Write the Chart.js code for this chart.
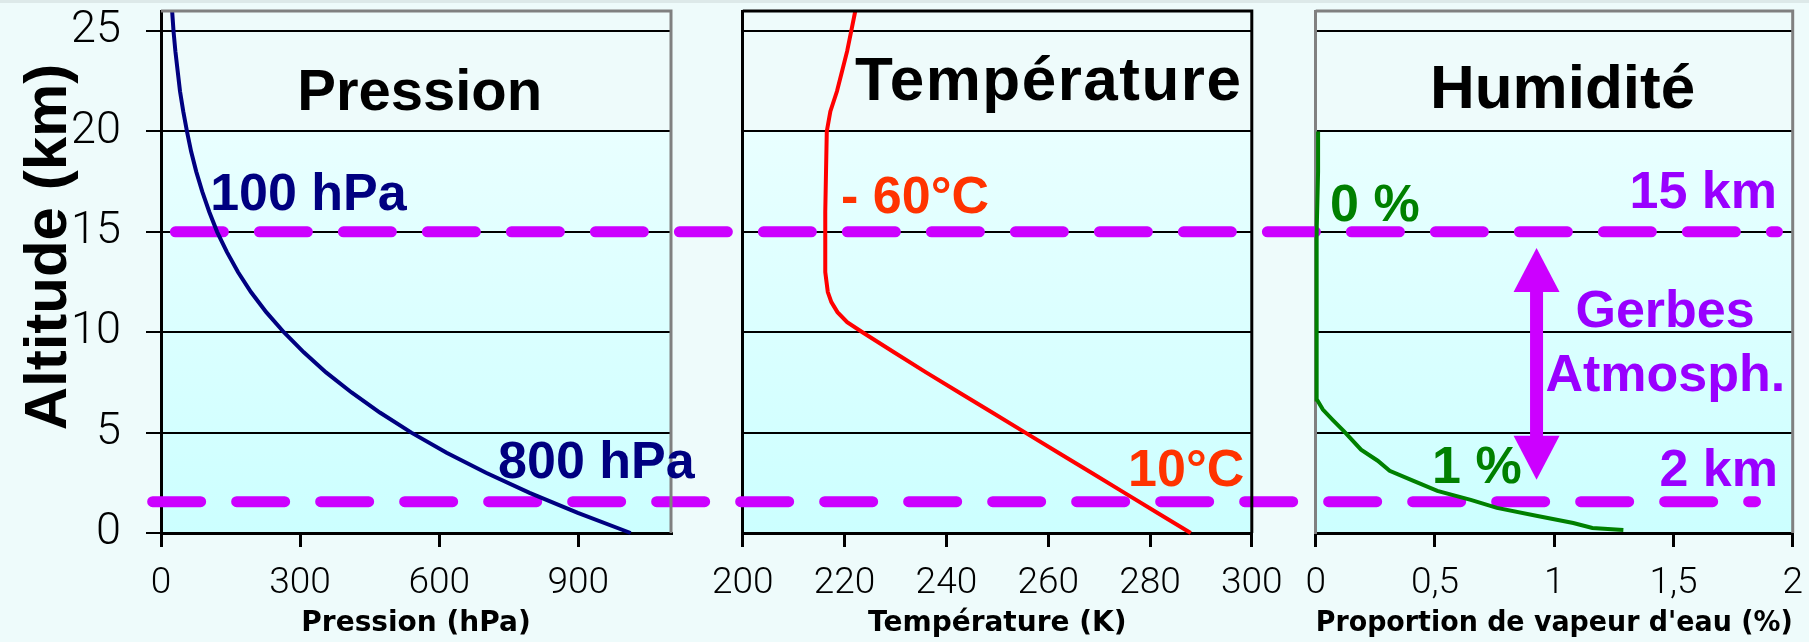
<!DOCTYPE html>
<html lang="fr">
<head>
<meta charset="utf-8">
<title>Pression, température, humidité</title>
<script src="https://cdn.jsdelivr.net/npm/chart.js@4.4.1/dist/chart.umd.min.js"></script>
<style>
  html, body { margin: 0; padding: 0; }
  body { width: 1809px; height: 642px; position: relative; overflow: hidden; background: #eefbfb; }
  #strip { position: absolute; left: 0; top: 0; width: 1809px; height: 3px; background: #dde9e9; }
  canvas { position: absolute; top: 0; }
</style>
</head>
<body>
<div id="strip"></div>
<canvas id="press" width="700" height="642" style="left:0px"></canvas>
<canvas id="temp" width="590" height="642" style="left:700px"></canvas>
<canvas id="hum" width="519" height="642" style="left:1290px"></canvas>
<script>
/* Profils verticaux : pression, température, humidité
   - trois graphiques Chart.js côte à côte, même axe des altitudes
   - les deux pointillés (15 km / ~2 km) traversent les trois panneaux
*/

// ---- valeurs --------------------------------------------------------------
const altTicks = [0, 5, 10, 15, 20, 25];

const altPression = [0, 1, 2, 3, 4, 5, 6, 7, 8, 9, 10, 11, 12, 13, 14, 15, 16, 17, 18, 19, 20, 21, 22, 23, 24, 25, 26];
const pression    = [1013, 899, 795, 701, 616, 540, 472, 411, 356, 308, 265, 227, 194, 166, 142, 121, 104, 89, 76, 65, 56, 48, 41, 36, 31, 27, 24];
const pressionTicks = [0, 300, 600, 900];

const altTemp     = [0, 1, 2, 3, 4, 5, 6, 7, 8, 9, 10, 10.5, 11, 11.5, 12, 13, 16, 20, 21, 22, 23, 24, 25, 26];
const temperature = [288, 281.5, 275, 268.5, 262, 255.5, 249, 242.5, 236, 229.7, 223.5, 220.5, 218.6, 217.4, 216.7, 216.2, 216.2, 216.5, 217.2, 218.5, 219.5, 220.5, 221.3, 222.1];
const tempTicks   = [200, 220, 240, 260, 280, 300];

const altHum   = [0.15, 0.25, 0.5, 0.85, 1.25, 1.65, 2.1, 2.6, 3.1, 3.6, 4.15, 5.05, 5.65, 6.15, 6.65, 10, 15, 18, 20];
const humidite = [1.29, 1.16, 1.08, 0.93, 0.76, 0.65, 0.51, 0.41, 0.31, 0.26, 0.19, 0.12, 0.07, 0.03, 0.005, 0.004, 0.004, 0.01, 0.01];
const humTicks = [0, 0.5, 1, 1.5, 2];

const niveaux = [15, 1.56];          // altitude des deux pointillés (km)

// ---- styles -------------------------------------------------------------------
const MAGENTA = "#cc00ff";
const VIOLET  = "#9900ff";
const BOLD    = '"Liberation Sans", Arial, sans-serif';
const THIN    = { family: "Roboto", weight: "300", size: 37 };
const AXTITLE = { family: '"DejaVu Sans"', weight: "bold", size: 28 };

// start (hPa, 1st panel) and end (%, last panel) of each dashed line
const dashExtent = [ { from: 31, to: 1.936 }, { from: -18, to: 1.844 } ];

const charts = {};

const panelPlugin = {
  id: "panel",
  beforeDraw(chart) {
    const { ctx, chartArea: a } = chart;
    const yTop = chart.scales.y.getPixelForValue(20);
    const g = ctx.createLinearGradient(0, yTop, 0, a.bottom);
    g.addColorStop(0, "#e9ffff");
    g.addColorStop(1, "#ccffff");
    ctx.save();
    ctx.fillStyle = g;
    ctx.fillRect(a.left, yTop, a.right - a.left, a.bottom - yTop);
    ctx.restore();
  },
  beforeDatasetsDraw(chart) {
    if (!charts.press || !charts.hum) return;
    const ctx = chart.ctx;
    const L = chart.canvas.offsetLeft;
    const pL = charts.press.canvas.offsetLeft;
    const hL = charts.hum.canvas.offsetLeft;
    niveaux.forEach((alt, i) => {
      const x0 = pL + charts.press.scales.x.getPixelForValue(dashExtent[i].from);
      const x1 = hL + charts.hum.scales.x.getPixelForValue(dashExtent[i].to);
      const xs = Math.max(x0, L) - L;
      const xe = Math.min(x1, L + chart.width) - L;
      if (xe <= xs) return;
      const y = chart.scales.y.getPixelForValue(alt);
      ctx.save();
      ctx.strokeStyle = MAGENTA;
      ctx.lineWidth = 11;
      ctx.lineCap = "round";
      ctx.setLineDash([48, 36]);
      ctx.lineDashOffset = (L + xs) - x0;    // keep the pattern continuous between canvases
      ctx.beginPath();
      ctx.moveTo(xs, y);
      ctx.lineTo(xe, y);
      ctx.stroke();
      ctx.restore();
    });
  },
  afterDraw(chart, args, o) {
    const { ctx, chartArea: a } = chart;
    const sx = chart.scales.x, sy = chart.scales.y;
    ctx.save();
    // top + right side of the frame
    ctx.strokeStyle = o.frame;
    ctx.lineWidth = 3;
    ctx.beginPath();
    ctx.moveTo(a.left, a.top);
    ctx.lineTo(a.right, a.top);
    ctx.lineTo(a.right, a.bottom);
    ctx.stroke();

    // double arrow
    (o.arrows || []).forEach(ar => {
      const x = sx.getPixelForValue(ar.x);
      const yA = sy.getPixelForValue(ar.top);
      const yB = sy.getPixelForValue(ar.bottom);
      const head = 44, half = 23;
      ctx.fillStyle = MAGENTA;
      ctx.fillRect(x - 6.5, yA + head - 1, 13, yB - yA - 2 * head + 2);
      ctx.beginPath();
      ctx.moveTo(x, yA); ctx.lineTo(x - half, yA + head); ctx.lineTo(x + half, yA + head);
      ctx.closePath(); ctx.fill();
      ctx.beginPath();
      ctx.moveTo(x, yB); ctx.lineTo(x - half, yB - head); ctx.lineTo(x + half, yB - head);
      ctx.closePath(); ctx.fill();
    });

    // texts
    (o.labels || []).forEach(l => {
      ctx.font = "bold " + l.size + "px " + BOLD;
      ctx.fillStyle = l.color;
      ctx.textAlign = l.align;
      ctx.textBaseline = "alphabetic";
      ctx.letterSpacing = (l.spacing || 0) + "px";
      ctx.fillText(l.text, sx.getPixelForValue(l.x), sy.getPixelForValue(l.y));
    });
    ctx.restore();
  }
};

function makeChart(id, cfg) {
  return new Chart(document.getElementById(id), {
    type: "scatter",
    data: {
      datasets: [{
        data: cfg.alt.map((a, i) => ({ x: cfg.values[i], y: a })),
        showLine: true,
        borderColor: cfg.color,
        borderWidth: 4,
        pointRadius: 0,
        tension: 0,
        clip: false
      }]
    },
    options: {
      responsive: false,
      animation: false,
      events: [],
      layout: { padding: { left: 0, top: 11, right: cfg.padRight, bottom: 0 } },
      plugins: {
        legend: { display: false },
        tooltip: { enabled: false },
        panel: { frame: cfg.frame, labels: cfg.labels, arrows: cfg.arrows }
      },
      scales: {
        x: {
          type: "linear",
          position: "bottom",
          min: cfg.min, max: cfg.max,
          afterBuildTicks: s => { s.ticks = cfg.ticks.map(v => ({ value: v })); },
          afterFit: s => { s.height = 109; s.paddingLeft = 0; s.paddingRight = 0; },
          grid: { drawOnChartArea: false, drawTicks: true, tickLength: 14, color: "#000", lineWidth: 3 },
          border: { display: true, color: "#000", width: 3 },
          ticks: { color: "#000", font: THIN, padding: 15, maxRotation: 0, autoSkip: false,
                   callback: cfg.fmt || (v => String(v)) },
          title: { display: true, text: cfg.xTitle, color: "#000", font: AXTITLE, padding: { top: 0, bottom: 1 } }
        },
        y: {
          type: "linear",
          min: 0, max: 26,
          afterBuildTicks: s => { s.ticks = altTicks.map(v => ({ value: v })); },
          afterFit: s => { s.width = cfg.yWidth; s.paddingTop = 0; s.paddingBottom = 0; },
          grid: { color: "#000", lineWidth: 2, drawTicks: cfg.yLabels, tickLength: 15 },
          border: { display: true, color: cfg.yAxisColor, width: 3 },
          ticks: { display: cfg.yLabels, color: "#000", padding: 25,
                   font: { family: "Roboto", weight: "300", size: 45 } },
          title: { display: cfg.yLabels, text: "\u00a0\u00a0\u00a0Altitude (km)", color: "#000",
                   font: { family: BOLD, weight: "bold", size: 60 }, padding: { top: 13, bottom: 0 } }
        }
      }
    },
    plugins: [panelPlugin]
  });
}

charts.press = makeChart("press", {
  alt: altPression, values: pression, color: "#000080",
  min: 0, max: 1100, ticks: pressionTicks, xTitle: "Pression (hPa)",
  yWidth: 161, padRight: 29, yLabels: true, yAxisColor: "#000", frame: "#808080",
  labels: [
    { text: "Pression", x: 558, y: 21.08, align: "center", color: "#000", size: 58 },
    { text: "100 hPa",  x: 106, y: 16.07, align: "left", color: "#000080", size: 52 },
    { text: "800 hPa",  x: 727, y: 2.74,  align: "left", color: "#000080", size: 52 }
  ]
});

charts.temp = makeChart("temp", {
  alt: altTemp, values: temperature, color: "#ff0000",
  min: 200, max: 300, ticks: tempTicks, xTitle: "Température (K)",
  yWidth: 42.8, padRight: 38.2, yLabels: false, yAxisColor: "#000", frame: "#000",
  labels: [
    { text: "Température", x: 260.1, y: 21.58, align: "center", color: "#000", size: 62, spacing: 1.5 },
    { text: "- 60°C", x: 219.3, y: 15.94, align: "left", color: "#ff3300", size: 52 },
    { text: "10°C",   x: 275.7, y: 2.32,  align: "left", color: "#ff3300", size: 52 }
  ]
});

charts.hum = makeChart("hum", {
  alt: altHum, values: humidite, color: "#008000",
  min: 0, max: 2, ticks: humTicks, xTitle: "Proportion de vapeur d'eau (%)",
  fmt: v => String(v).replace(".", ","),
  yWidth: 25.7, padRight: 16.3, yLabels: false, yAxisColor: "#808080", frame: "#808080",
  labels: [
    { text: "Humidité", x: 1.035, y: 21.17, align: "center", color: "#000", size: 62 },
    { text: "0 %",      x: 0.06,  y: 15.52, align: "left",   color: "#008000", size: 52 },
    { text: "15 km",    x: 1.934, y: 16.19, align: "right",  color: VIOLET, size: 52 },
    { text: "Gerbes",   x: 1.465, y: 10.27, align: "center", color: VIOLET, size: 52 },
    { text: "Atmosph.", x: 1.466, y: 7.09,  align: "center", color: VIOLET, size: 52 },
    { text: "1 %",      x: 0.488, y: 2.49,  align: "left",   color: "#008000", size: 52 },
    { text: "2 km",     x: 1.938, y: 2.32,  align: "right",  color: VIOLET, size: 52 }
  ],
  arrows: [ { x: 0.926, top: 14.2, bottom: 2.65 } ]
});

// redraw once every chart exists so the dashed lines cross all three panels
Object.values(charts).forEach(c => c.draw());
</script>
</body>
</html>
